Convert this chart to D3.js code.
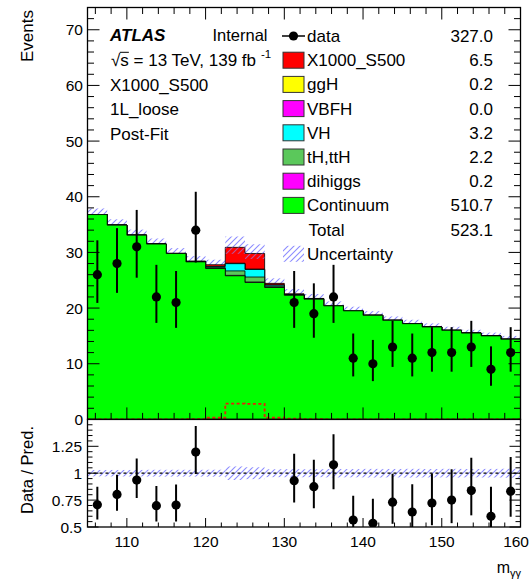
<!DOCTYPE html>
<html><head><meta charset="utf-8">
<script src="https://cdn.jsdelivr.net/npm/d3@7"></script>
<style>body{margin:0;background:#fff} text{font-family:"Liberation Sans",Arial,Helvetica,sans-serif;fill:#000}</style>
</head><body><svg id="c" width="530" height="581"></svg>
<script>
// ---------------- data ----------------
const binEdges = [105,107.5,110,112.5,115,117.5,120,122.5,125,127.5,130,132.5,135,137.5,140,142.5,145,147.5,150,152.5,155,157.5,160];
const dataCounts = [26,28,31,22,21,34,null,null,null,null,21,19,22,11,10,13,11,12,12,13,9,12];
const continuum  = [36.8,34.9,33.1,31.5,29.8,28.3,27.1,25.8,24.6,23.7,22.3,21.6,20.4,19.5,18.7,17.8,17.2,16.6,16.0,15.5,15.0,14.4];
const dihiggs    = [0,0,0,0,0,0,0.02,0.08,0.08,0.02,0,0,0,0,0,0,0,0,0,0,0,0];
const tHttH      = [0,0,0,0,0,0.03,0.15,0.8,0.9,0.2,0.07,0.05,0,0,0,0,0,0,0,0,0,0];
const VH         = [0,0,0,0,0.02,0.05,0.2,1.3,1.35,0.2,0.05,0.03,0,0,0,0,0,0,0,0,0,0];
const VBFH       = [0,0,0,0,0,0,0,0,0,0,0,0,0,0,0,0,0,0,0,0,0,0];
const ggH        = [0,0,0,0,0,0,0.02,0.08,0.08,0.02,0,0,0,0,0,0,0,0,0,0,0,0];
const X1000_S500 = [0,0,0,0,0,0.05,0.3,2.85,2.8,0.3,0.15,0.05,0,0,0,0,0,0,0,0,0,0];
const uncertainty= [1.1,1.05,1.0,1.0,0.95,0.9,0.9,1.95,1.65,0.9,0.85,0.8,0.8,0.75,0.75,0.7,0.7,0.65,0.65,0.6,0.6,0.6];
const legendLabels = ["data","X1000_S500","ggH","VBFH","VH","tH,ttH","dihiggs","Continuum","Total","Uncertainty"];
const legendYields = ["327.0","6.5","0.2","0.0","3.2","2.2","0.2","510.7","523.1",""];
const infoLines = ["X1000_S500","1L_loose","Post-Fit"];
const xTicks = [110,120,130,140,150,160];
const yTicks = [0,10,20,30,40,50,60,70];
const ratioTicks = [0.5,0.75,1,1.25];

// ---------------- layout ----------------
const svg = d3.select("#c");
const L = 87.5, R = 520.5, T = 7.5, MID = 419.4, B = 527;
const x = d3.scaleLinear().domain([105,160]).range([L,R]);
const y = d3.scaleLinear().domain([0,74]).range([MID,T]);
const yr = d3.scaleLinear().domain([0.5,1.5]).range([B,MID]);
const nb = binEdges.length-1;
const centers = d3.range(nb).map(i => (binEdges[i]+binEdges[i+1])/2);

const defs = svg.append("defs");
const pat = defs.append("pattern").attr("id","hatch").attr("patternUnits","userSpaceOnUse")
  .attr("width",6).attr("height",6);
pat.append("path").attr("d","M0,6 L6,0 M-1,1 L1,-1 M5,7 L7,5")
  .attr("fill","none").style("stroke","#8c8cff").style("stroke-width","1.1px");
defs.append("clipPath").attr("id","clipTop").append("rect").attr("x",L).attr("y",T).attr("width",R-L).attr("height",MID-T);
defs.append("clipPath").attr("id","clipBot").append("rect").attr("x",L).attr("y",MID).attr("width",R-L).attr("height",B-MID);

// stack
const comps = [
  {name:"Continuum", v:continuum, c:"#00ff00"},
  {name:"dihiggs", v:dihiggs, c:"#ff00ff"},
  {name:"tH,ttH", v:tHttH, c:"#5bc85b"},
  {name:"VH", v:VH, c:"#00ffff"},
  {name:"VBFH", v:VBFH, c:"#ff00ff"},
  {name:"ggH", v:ggH, c:"#ffff00"},
  {name:"X1000_S500", v:X1000_S500, c:"#ff0000"}
];
let cum = d3.range(nb).map(()=>0);
comps.forEach(cp => { cum = cum.map((s,i)=>s+cp.v[i]); cp.cum = cum.slice(); });
const total = comps[comps.length-1].cum;

const stepPts = vals => binEdges.map((e,i)=>[e, vals[Math.min(i,nb-1)]]);
const area = d3.area().curve(d3.curveStepAfter).x(d=>x(d[0])).y0(y(0)).y1(d=>y(d[1]));
const line = d3.line().curve(d3.curveStepAfter).x(d=>x(d[0])).y(d=>y(d[1]));

const gTop = svg.append("g").attr("clip-path","url(#clipTop)");
// uncertainty band
gTop.selectAll("rect.unc").data(d3.range(nb)).join("rect").attr("class","unc")
  .attr("x",i=>x(binEdges[i])).attr("width",i=>x(binEdges[i+1])-x(binEdges[i]))
  .attr("y",i=>y(total[i]+uncertainty[i])).attr("height",i=>y(total[i]-uncertainty[i])-y(total[i]+uncertainty[i]))
  .attr("fill","url(#hatch)");
// cumulative histos, top-most first
comps.slice().reverse().forEach(cp => {
  gTop.append("path").attr("d",area(stepPts(cp.cum))).attr("fill",cp.c);
  gTop.append("path").attr("d",line(stepPts(cp.cum))).attr("fill","none").attr("stroke","#000").attr("stroke-width",0.8);
});
// hatch over signal bins (band drawn over the stack where the signal sits)
gTop.selectAll("rect.unc2").data(d3.range(nb).filter(i=>X1000_S500[i]>1)).join("rect")
  .attr("x",i=>x(binEdges[i])).attr("width",i=>x(binEdges[i+1])-x(binEdges[i]))
  .attr("y",i=>y(total[i])).attr("height",i=>y(total[i]-uncertainty[i]*0.6)-y(total[i]))
  .attr("fill","url(#hatch)").attr("opacity",0.6);
// signal dashed overlay
gTop.append("path").attr("d",line(stepPts(X1000_S500))).attr("fill","none")
  .attr("stroke","#e8200a").attr("stroke-width",1.8).attr("stroke-dasharray","3,2.5");

// data points
const errUp = n => Math.sqrt(n+0.75)+1, errDn = n => Math.sqrt(n-0.25);
const pts = d3.range(nb).filter(i=>dataCounts[i]!==null);
const gD = svg.append("g");
gD.selectAll("line.eb").data(pts).join("line")
  .attr("x1",i=>x(centers[i])).attr("x2",i=>x(centers[i]))
  .attr("y1",i=>y(dataCounts[i]+errUp(dataCounts[i]))).attr("y2",i=>y(dataCounts[i]-errDn(dataCounts[i])))
  .attr("stroke","#000").attr("stroke-width",2);
gD.selectAll("circle").data(pts).join("circle")
  .attr("cx",i=>x(centers[i])).attr("cy",i=>y(dataCounts[i])).attr("r",4.6).attr("fill","#000");

// ratio panel
const gB = svg.append("g").attr("clip-path","url(#clipBot)");
gB.selectAll("rect.runc").data(d3.range(nb)).join("rect")
  .attr("x",i=>x(binEdges[i])).attr("width",i=>x(binEdges[i+1])-x(binEdges[i]))
  .attr("y",i=>yr(1+uncertainty[i]/total[i])).attr("height",i=>yr(1-uncertainty[i]/total[i])-yr(1+uncertainty[i]/total[i]))
  .attr("fill","url(#hatch)");
gB.append("line").attr("x1",L).attr("x2",R).attr("y1",yr(1)).attr("y2",yr(1))
  .attr("stroke","#000").attr("stroke-width",1.2).attr("stroke-dasharray","3,3");
gB.selectAll("line.reb").data(pts).join("line")
  .attr("x1",i=>x(centers[i])).attr("x2",i=>x(centers[i]))
  .attr("y1",i=>yr((dataCounts[i]+errUp(dataCounts[i]))/total[i])).attr("y2",i=>yr((dataCounts[i]-errDn(dataCounts[i]))/total[i]))
  .attr("stroke","#000").attr("stroke-width",2);
gB.selectAll("circle").data(pts).join("circle")
  .attr("cx",i=>x(centers[i])).attr("cy",i=>yr(dataCounts[i]/total[i])).attr("r",4.6).attr("fill","#000");

// frames & ticks
const ax = svg.append("g").attr("stroke","#000").attr("fill","none");
ax.append("rect").attr("x",L).attr("y",T).attr("width",R-L).attr("height",MID-T).attr("stroke-width",1.3);
ax.append("rect").attr("x",L).attr("y",MID).attr("width",R-L).attr("height",B-MID).attr("stroke-width",1.3);
const xMinor = d3.range(106,160.1,2);
function hTicks(vals, yy, dir, lenMaj, lenMin){
  vals.forEach(v=>{ const maj = xTicks.includes(v);
    ax.append("line").attr("x1",x(v)).attr("x2",x(v)).attr("y1",yy).attr("y2",yy+dir*(maj?lenMaj:lenMin)).attr("stroke-width",1); });
}
hTicks(xMinor, MID, -1, 12, 6.5);
hTicks(xMinor, T, 1, 12, 6.5);
hTicks(xMinor, B, -1, 9, 4.5);
const yMinor = d3.range(0,74,2);
yMinor.forEach(v=>{ const maj = v%10===0; const l = maj?12:6.5;
  ax.append("line").attr("x1",L).attr("x2",L+l).attr("y1",y(v)).attr("y2",y(v)).attr("stroke-width",1);
  ax.append("line").attr("x1",R).attr("x2",R-l).attr("y1",y(v)).attr("y2",y(v)).attr("stroke-width",1);
});
d3.range(0.5,1.501,0.05).forEach(v=>{ const maj = ratioTicks.some(t=>Math.abs(t-v)<1e-6); const l = maj?11:5;
  ax.append("line").attr("x1",L).attr("x2",L+l).attr("y1",yr(v)).attr("y2",yr(v)).attr("stroke-width",1);
  ax.append("line").attr("x1",R).attr("x2",R-l).attr("y1",yr(v)).attr("y2",yr(v)).attr("stroke-width",1);
});

// tick labels
const fs = 15.5;
svg.append("g").selectAll("text").data(yTicks).join("text")
  .attr("x",83).attr("y",d=>y(d)+5.5).attr("text-anchor","end").attr("font-size",fs).text(d=>d);
svg.append("g").selectAll("text").data(ratioTicks).join("text")
  .attr("x",82).attr("y",d=>yr(d)+5.5).attr("text-anchor","end").attr("font-size",fs).text(d=>d3.format("")(d));
svg.append("g").selectAll("text").data(xTicks).join("text")
  .attr("x",d=> d===160 ? 529 : x(d)).attr("y",547)
  .attr("text-anchor",d=> d===160 ? "end" : "middle").attr("font-size",fs).text(d=>d);

// axis titles
svg.append("text").attr("transform","translate(33,10) rotate(-90)").attr("text-anchor","end").attr("font-size",17).text("Events");
svg.append("text").attr("transform","translate(33,470) rotate(-90)").attr("text-anchor","middle").attr("font-size",16.5).text("Data / Pred.");
const xt = svg.append("text").attr("x",521).attr("y",573).attr("text-anchor","end").attr("font-size",16);
xt.append("tspan").text("m");
xt.append("tspan").attr("font-size",11).attr("dy",4).text("γγ");

// info text
svg.append("text").attr("x",110).attr("y",40.7).attr("font-size",17).attr("font-weight","bold").attr("font-style","italic").text("ATLAS");
svg.append("text").attr("x",212.5).attr("y",40.7).attr("font-size",16.5).text("Internal");
const sq = svg.append("text").attr("x",111).attr("y",65.5).attr("font-size",17);
sq.append("tspan").text("√");
sq.append("tspan").text("s");
sq.append("tspan").text(" = 13 TeV, 139 fb");
sq.append("tspan").attr("font-size",11.5).attr("dx",5).attr("dy",-8).text("-1");
// overline on s
{ const n = sq.node(); const st = n.getStartPositionOfChar(1).x, en = n.getEndPositionOfChar(1).x;
  svg.append("line").attr("x1",st-0.5).attr("x2",en).attr("y1",52.3).attr("y2",52.3).attr("stroke","#000").attr("stroke-width",1); }
infoLines.forEach((t,i)=> svg.append("text").attr("x",110).attr("y",90.5+24.5*i).attr("font-size",17).text(t));

// legend
const lg = svg.append("g");
const rowY = i => 36 + i*24.2;
const swatchColor = {"X1000_S500":"#ff0000","ggH":"#ffff00","VBFH":"#ff00ff","VH":"#00ffff","tH,ttH":"#5bc85b","dihiggs":"#ff00ff","Continuum":"#00ff00"};
legendLabels.forEach((lab,i)=>{
  const cy = rowY(i);
  if(lab==="data"){
    lg.append("line").attr("x1",282).attr("x2",305).attr("y1",cy).attr("y2",cy).attr("stroke","#000").attr("stroke-width",1.5);
    lg.append("line").attr("x1",293.5).attr("x2",293.5).attr("y1",cy-4).attr("y2",cy+4).attr("stroke","#000").attr("stroke-width",1.5);
    lg.append("circle").attr("cx",293.5).attr("cy",cy).attr("r",4.6).attr("fill","#000");
  } else if(swatchColor[lab]){
    lg.append("rect").attr("x",283).attr("y",cy-8).attr("width",21).attr("height",16).attr("fill",swatchColor[lab]).attr("stroke","#333").attr("stroke-width",1);
  } else if(lab==="Uncertainty"){
    lg.append("rect").attr("x",283).attr("y",cy-8).attr("width",21).attr("height",16).attr("fill","url(#hatch)");
  }
  lg.append("text").attr("x",lab==="Total"?308.5:307).attr("y",cy+6).attr("font-size",17).text(lab);
  if(legendYields[i]) lg.append("text").attr("x",493).attr("y",cy+6).attr("text-anchor","end").attr("font-size",17).text(legendYields[i]);
});
</script></body></html>
